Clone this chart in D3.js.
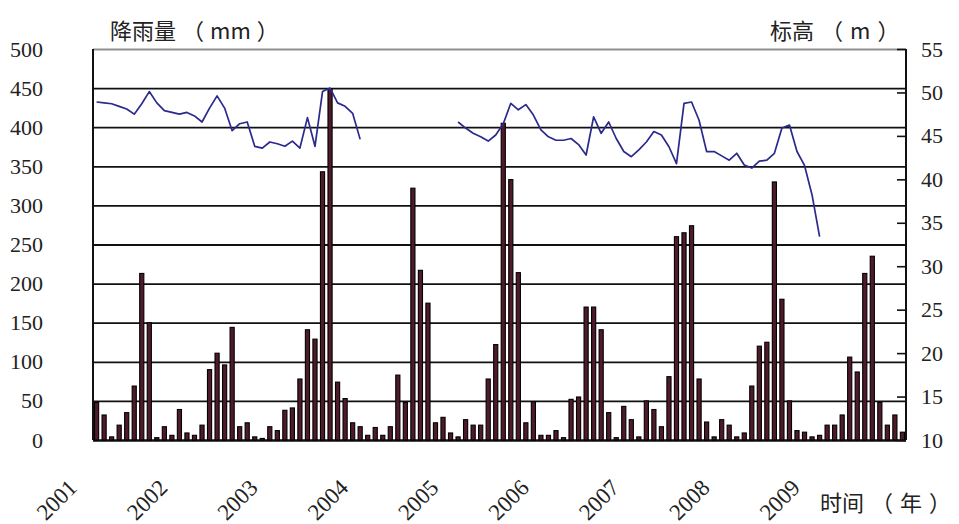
<!DOCTYPE html>
<html>
<head>
<meta charset="utf-8">
<script src="https://cdn.jsdelivr.net/npm/d3@7"></script>
<style>
  html, body { margin: 0; padding: 0; background: #fff; }
  svg { display: block; }
</style>
</head>
<body>
<svg id="chart" width="959" height="524"></svg>
<script>
// Monthly rainfall (mm) and groundwater level elevation (m), 2001–2009
const years = [2001, 2002, 2003, 2004, 2005, 2006, 2007, 2008, 2009];
const monthNumbers = [1, 2, 3, 4, 5, 6, 7, 8, 9, 10, 11, 12];

const rainfall = [
  48, 32, 4, 19, 35, 69, 213, 150, 3, 17, 6, 39,          // 2001
  9, 6, 19, 90, 111, 96, 144, 17, 22, 4, 2, 17,           // 2002
  12, 38, 41, 78, 141, 129, 343, 449, 74, 53, 22, 17,     // 2003
  6, 16, 6, 17, 83, 48, 322, 217, 175, 22, 29, 9,         // 2004
  4, 26, 19, 19, 78, 122, 405, 333, 214, 22, 49, 6,       // 2005
  6, 12, 3, 52, 55, 170, 170, 141, 35, 3, 43, 26,         // 2006
  4, 50, 39, 17, 81, 260, 265, 274, 78, 23, 4, 26,        // 2007
  19, 4, 9, 69, 120, 125, 330, 180, 50, 12, 10, 4,        // 2008
  6, 19, 19, 32, 106, 87, 213, 235, 48, 19, 32, 10        // 2009
];

const elevation = [
  48.9, 48.8, 48.7, 48.4, 48.1, 47.5, 48.7, 50.1, 48.8, 47.9, 47.7, 47.5,   // 2001
  47.7, 47.3, 46.6, 48.2, 49.6, 48.2, 45.6, 46.4, 46.6, 43.8, 43.6, 44.3,   // 2002
  44.1, 43.8, 44.4, 43.6, 47.1, 43.8, 50.1, 50.5, 48.8, 48.4, 47.6, 44.6,   // 2003
  null, null, null, null, null, null, null, null, null, null, null, null,   // 2004
  46.6, 45.9, 45.3, 44.9, 44.4, 45.1, 46.4, 48.75, 48.0, 48.6, 47.4, 45.7,  // 2005
  44.9, 44.5, 44.5, 44.7, 44.0, 42.8, 47.2, 45.3, 46.6, 44.7, 43.2, 42.6,   // 2006
  43.4, 44.3, 45.5, 45.1, 43.75, 41.8, 48.75, 48.9, 46.8, 43.2, 43.2, 42.7, // 2007
  42.2, 43.0, 41.65, 41.3, 42.1, 42.2, 43.0, 45.9, 46.25, 43.2, 41.6, 38.2, // 2008
  33.4, null, null, null, null, null, null, null, null, null, null, null    // 2009
];

const rainTicks = [0, 50, 100, 150, 200, 250, 300, 350, 400, 450, 500];
const elevTicks = [10, 15, 20, 25, 30, 35, 40, 45, 50, 55];

// axis titles, split into name / bracket / unit pieces
const rainTitle = ["降雨量", "（", "mm", "）"];
const elevTitle = ["标高", "（", "m", "）"];
const timeTitle = ["时间", "（", "年", "）"];

// one category per month
const categories = years.flatMap(y => monthNumbers.map(m => `${y}-${m}`));

const svg = d3.select("#chart");
const plot = { left: 93, right: 906, top: 49, bottom: 440 };
const numFont = '"Liberation Serif", "Times New Roman", serif';
const cjkFont = '"Noto Sans CJK SC", "Noto Sans", sans-serif';

const x = d3.scaleBand()
  .domain(categories)
  .range([plot.left, plot.right])
  .paddingInner(0.45)
  .paddingOuter(0.2);

const yRain = d3.scaleLinear().domain([0, 500]).range([plot.bottom, plot.top]);
const yElev = d3.scaleLinear().domain([10, 55]).range([plot.bottom, plot.top]);

// left axis: labels plus horizontal gridlines across the plot
const gLeft = svg.append("g")
  .attr("transform", `translate(${plot.left},0)`)
  .call(d3.axisLeft(yRain)
    .tickValues(rainTicks)
    .tickSizeInner(-(plot.right - plot.left))
    .tickSizeOuter(0)
    .tickPadding(50)
    .tickFormat(d3.format("d")));
gLeft.select(".domain").remove();
gLeft.selectAll(".tick line")
  .attr("stroke", d => d === 500 ? "#8f8f8f" : "#111")
  .attr("stroke-width", d => d === 0 ? 2.4 : 1.8);
gLeft.selectAll(".tick text")
  .style("font-family", numFont)
  .style("font-size", "22px")
  .attr("fill", "#222");

// rainfall bars
svg.append("g")
  .selectAll("rect")
  .data(rainfall)
  .join("rect")
  .attr("x", (d, i) => x(categories[i]))
  .attr("y", d => yRain(d))
  .attr("width", x.bandwidth())
  .attr("height", d => yRain(0) - yRain(d))
  .attr("fill", "#4f1b2a")
  .attr("stroke", "#000")
  .attr("stroke-width", 1.1);

// frame sides
svg.append("line")
  .attr("x1", plot.left).attr("x2", plot.left)
  .attr("y1", plot.top).attr("y2", plot.bottom)
  .attr("stroke", "#111").attr("stroke-width", 2);
svg.append("line")
  .attr("x1", plot.right).attr("x2", plot.right)
  .attr("y1", plot.top).attr("y2", plot.bottom)
  .attr("stroke", "#111").attr("stroke-width", 2);

// right axis: inward ticks and labels
const gRight = svg.append("g")
  .attr("transform", `translate(${plot.right},0)`)
  .call(d3.axisRight(yElev)
    .tickValues(elevTicks)
    .tickSizeInner(-9)
    .tickSizeOuter(0)
    .tickPadding(15));
gRight.select(".domain").remove();
gRight.selectAll(".tick line").attr("stroke", "#111").attr("stroke-width", 1.6);
gRight.selectAll(".tick text")
  .style("font-family", numFont)
  .style("font-size", "22px")
  .attr("fill", "#222");

// elevation line (gap where no readings)
const line = d3.line()
  .defined(d => d != null)
  .x((d, i) => x(categories[i]) + x.bandwidth() / 2)
  .y(d => yElev(d));
svg.append("path")
  .datum(elevation)
  .attr("d", line)
  .attr("fill", "none")
  .attr("stroke", "#2a2a8c")
  .attr("stroke-width", 1.7)
  .attr("stroke-linejoin", "round");

// rotated year labels
svg.append("g")
  .selectAll("text")
  .data(years)
  .join("text")
  .attr("transform", d => `translate(${x(`${d}-1`) - x.step() * 0.2 - 14.5},489) rotate(-45)`)
  .attr("text-anchor", "end")
  .style("font-family", numFont)
  .style("font-size", "23px")
  .attr("fill", "#222")
  .text(d => String(d));

// axis titles: CJK name, wide brackets, unit
function title(parts, x0, y0, gap) {
  const t = svg.append("text")
    .attr("x", x0).attr("y", y0)
    .attr("fill", "#222")
    .style("font-family", cjkFont)
    .style("font-size", "22px");
  parts.forEach((p, i) => {
    const s = t.append("tspan").text(p);
    if (i > 0) s.attr("dx", gap);
  });
  return t;
}
title(rainTitle, 110, 39, 6);
title(elevTitle, 770, 39, 7);
title(timeTitle, 820, 511, 7);
</script>
</body>
</html>
